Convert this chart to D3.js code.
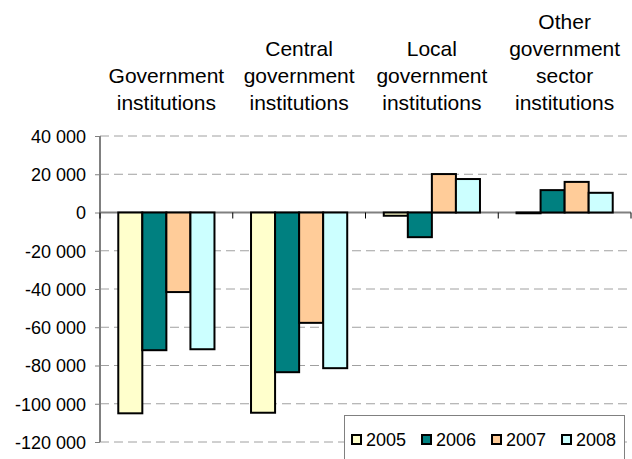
<!DOCTYPE html>
<html>
<head>
<meta charset="utf-8">
<script src="https://cdn.jsdelivr.net/npm/d3@7"></script>
<style>
  html, body { margin: 0; padding: 0; background: #fff; }
  svg { display: block; }
  svg text { font-family: "Liberation Sans", Arial, Helvetica, sans-serif; }
</style>
</head>
<body>
<svg id="chart" width="632" height="459"></svg>
<script>
// Net lending by government sector, 2005-2008
const categories = [
  "Government institutions",
  "Central government institutions",
  "Local government institutions",
  "Other government sector institutions"
];
const years = ["2005", "2006", "2007", "2008"];
const values2005 = [-105000, -104700, -1700, -400];
const values2006 = [-72000, -83500, -12900, 11700];
const values2007 = [-41600, -57700, 20100, 16000];
const values2008 = [-71500, -81400, 17500, 10300];
const yTicks = [40000, 20000, 0, -20000, -40000, -60000, -80000, -100000, -120000];
const colors = ["#FFFFCC", "#008080", "#FFCC99", "#CCFFFF"];

const FONT = '"Liberation Sans", Arial, Helvetica, sans-serif';

const seriesValues = [values2005, values2006, values2007, values2008];
const table = categories.map((c, i) => ({
  category: c,
  bars: years.map((y, j) => ({ year: y, value: seriesValues[j][i] }))
}));

const svg = d3.select("#chart");
const plot = { left: 100, right: 631, top: 136, bottom: 442 };

const x = d3.scaleBand().domain(categories).range([plot.left, plot.right]).padding(0);
const xInner = d3.scaleBand().domain(years).range([0, x.bandwidth()])
  .paddingInner(0).paddingOuter(0.76);
const y = d3.scaleLinear().domain([-120000, 40000]).range([plot.bottom, plot.top]);

const fmt = v => {
  const s = d3.format(",")(Math.abs(v)).replace(/,/g, " ");
  return (v < 0 ? "-" : "") + s;
};

// dashed horizontal gridlines
svg.append("g")
  .selectAll("line")
  .data(yTicks.filter(t => t !== 0))
  .join("line")
  .attr("x1", plot.left).attr("x2", plot.right)
  .attr("y1", d => y(d)).attr("y2", d => y(d))
  .attr("stroke", "#a0a0a0")
  .attr("stroke-width", 1)
  .attr("stroke-dasharray", "9,5");

// value axis
const yAxis = svg.append("g")
  .attr("transform", `translate(${plot.left},0)`)
  .call(d3.axisLeft(y).tickValues(yTicks).tickFormat(fmt).tickSize(5).tickPadding(9))
  .attr("font-family", FONT);
yAxis.select(".domain").attr("stroke", "#808080").attr("stroke-width", 2)
  .attr("d", `M0,${plot.top}V${plot.bottom}`);
yAxis.selectAll(".tick line").attr("stroke", "#808080");
yAxis.selectAll(".tick text")
  .attr("fill", "#000")
  .style("font-size", "18px")
  .attr("dy", "0.35em");

// category axis along zero
const xAxis = svg.append("g")
  .attr("transform", `translate(0,${y(0)})`);
xAxis.append("line")
  .attr("x1", plot.left).attr("x2", plot.right)
  .attr("stroke", "#808080").attr("stroke-width", 2);
xAxis.selectAll("line.tk")
  .data(categories.map(c => x(c)).concat([plot.right]))
  .join("line")
  .attr("class", "tk")
  .attr("x1", d => d).attr("x2", d => d)
  .attr("y1", 0).attr("y2", 6)
  .attr("stroke", "#000").attr("stroke-width", 1);

// bars
const groups = svg.append("g")
  .selectAll("g")
  .data(table)
  .join("g")
  .attr("transform", d => `translate(${x(d.category)},0)`);
groups.selectAll("rect")
  .data(d => d.bars)
  .join("rect")
  .attr("x", d => xInner(d.year))
  .attr("width", xInner.bandwidth())
  .attr("y", d => Math.min(y(d.value), y(0)))
  .attr("height", d => Math.abs(y(d.value) - y(0)))
  .attr("fill", (d, i) => colors[i])
  .attr("stroke", "#000")
  .attr("stroke-width", 2);

// category labels above the plot, wrapped word by word, bottom aligned
const lineGap = 27;
const lastBaseline = 110;
svg.append("g")
  .selectAll("text")
  .data(categories)
  .join("text")
  .attr("text-anchor", "middle")
  .attr("font-family", FONT)
  .style("font-size", "21px")
  .attr("fill", "#000")
  .each(function (c) {
    const t = d3.select(this);
    const words = c.split(" ");
    const lines = [];
    let cur = [];
    for (const w of words) {
      const trial = cur.concat([w]).join(" ");
      t.text(trial);
      if (cur.length && this.getComputedTextLength() > x.bandwidth() - 4) {
        lines.push(cur.join(" "));
        cur = [w];
      } else {
        cur.push(w);
      }
    }
    lines.push(cur.join(" "));
    t.text(null);
    const cx = x(c) + x.bandwidth() / 2;
    lines.forEach((ln, i) => {
      t.append("tspan")
        .attr("x", cx)
        .attr("y", lastBaseline - (lines.length - 1 - i) * lineGap)
        .text(ln);
    });
  });

// legend
const legend = svg.append("g");
legend.append("rect")
  .attr("x", 344.5).attr("y", 415.5)
  .attr("width", 280).attr("height", 60)
  .attr("fill", "#fff").attr("stroke", "#808080").attr("stroke-width", 1);
const item = legend.selectAll("g.item")
  .data(years)
  .join("g")
  .attr("class", "item")
  .attr("transform", (d, i) => `translate(${352 + i * 70},0)`);
item.append("rect")
  .attr("x", 0).attr("y", 435)
  .attr("width", 9).attr("height", 9)
  .attr("fill", (d, i) => colors[i])
  .attr("stroke", "#000").attr("stroke-width", 2);
item.append("text")
  .attr("x", 14).attr("y", 446)
  .attr("font-family", FONT)
  .style("font-size", "18px")
  .attr("fill", "#000")
  .text(d => d);
</script>
</body>
</html>
